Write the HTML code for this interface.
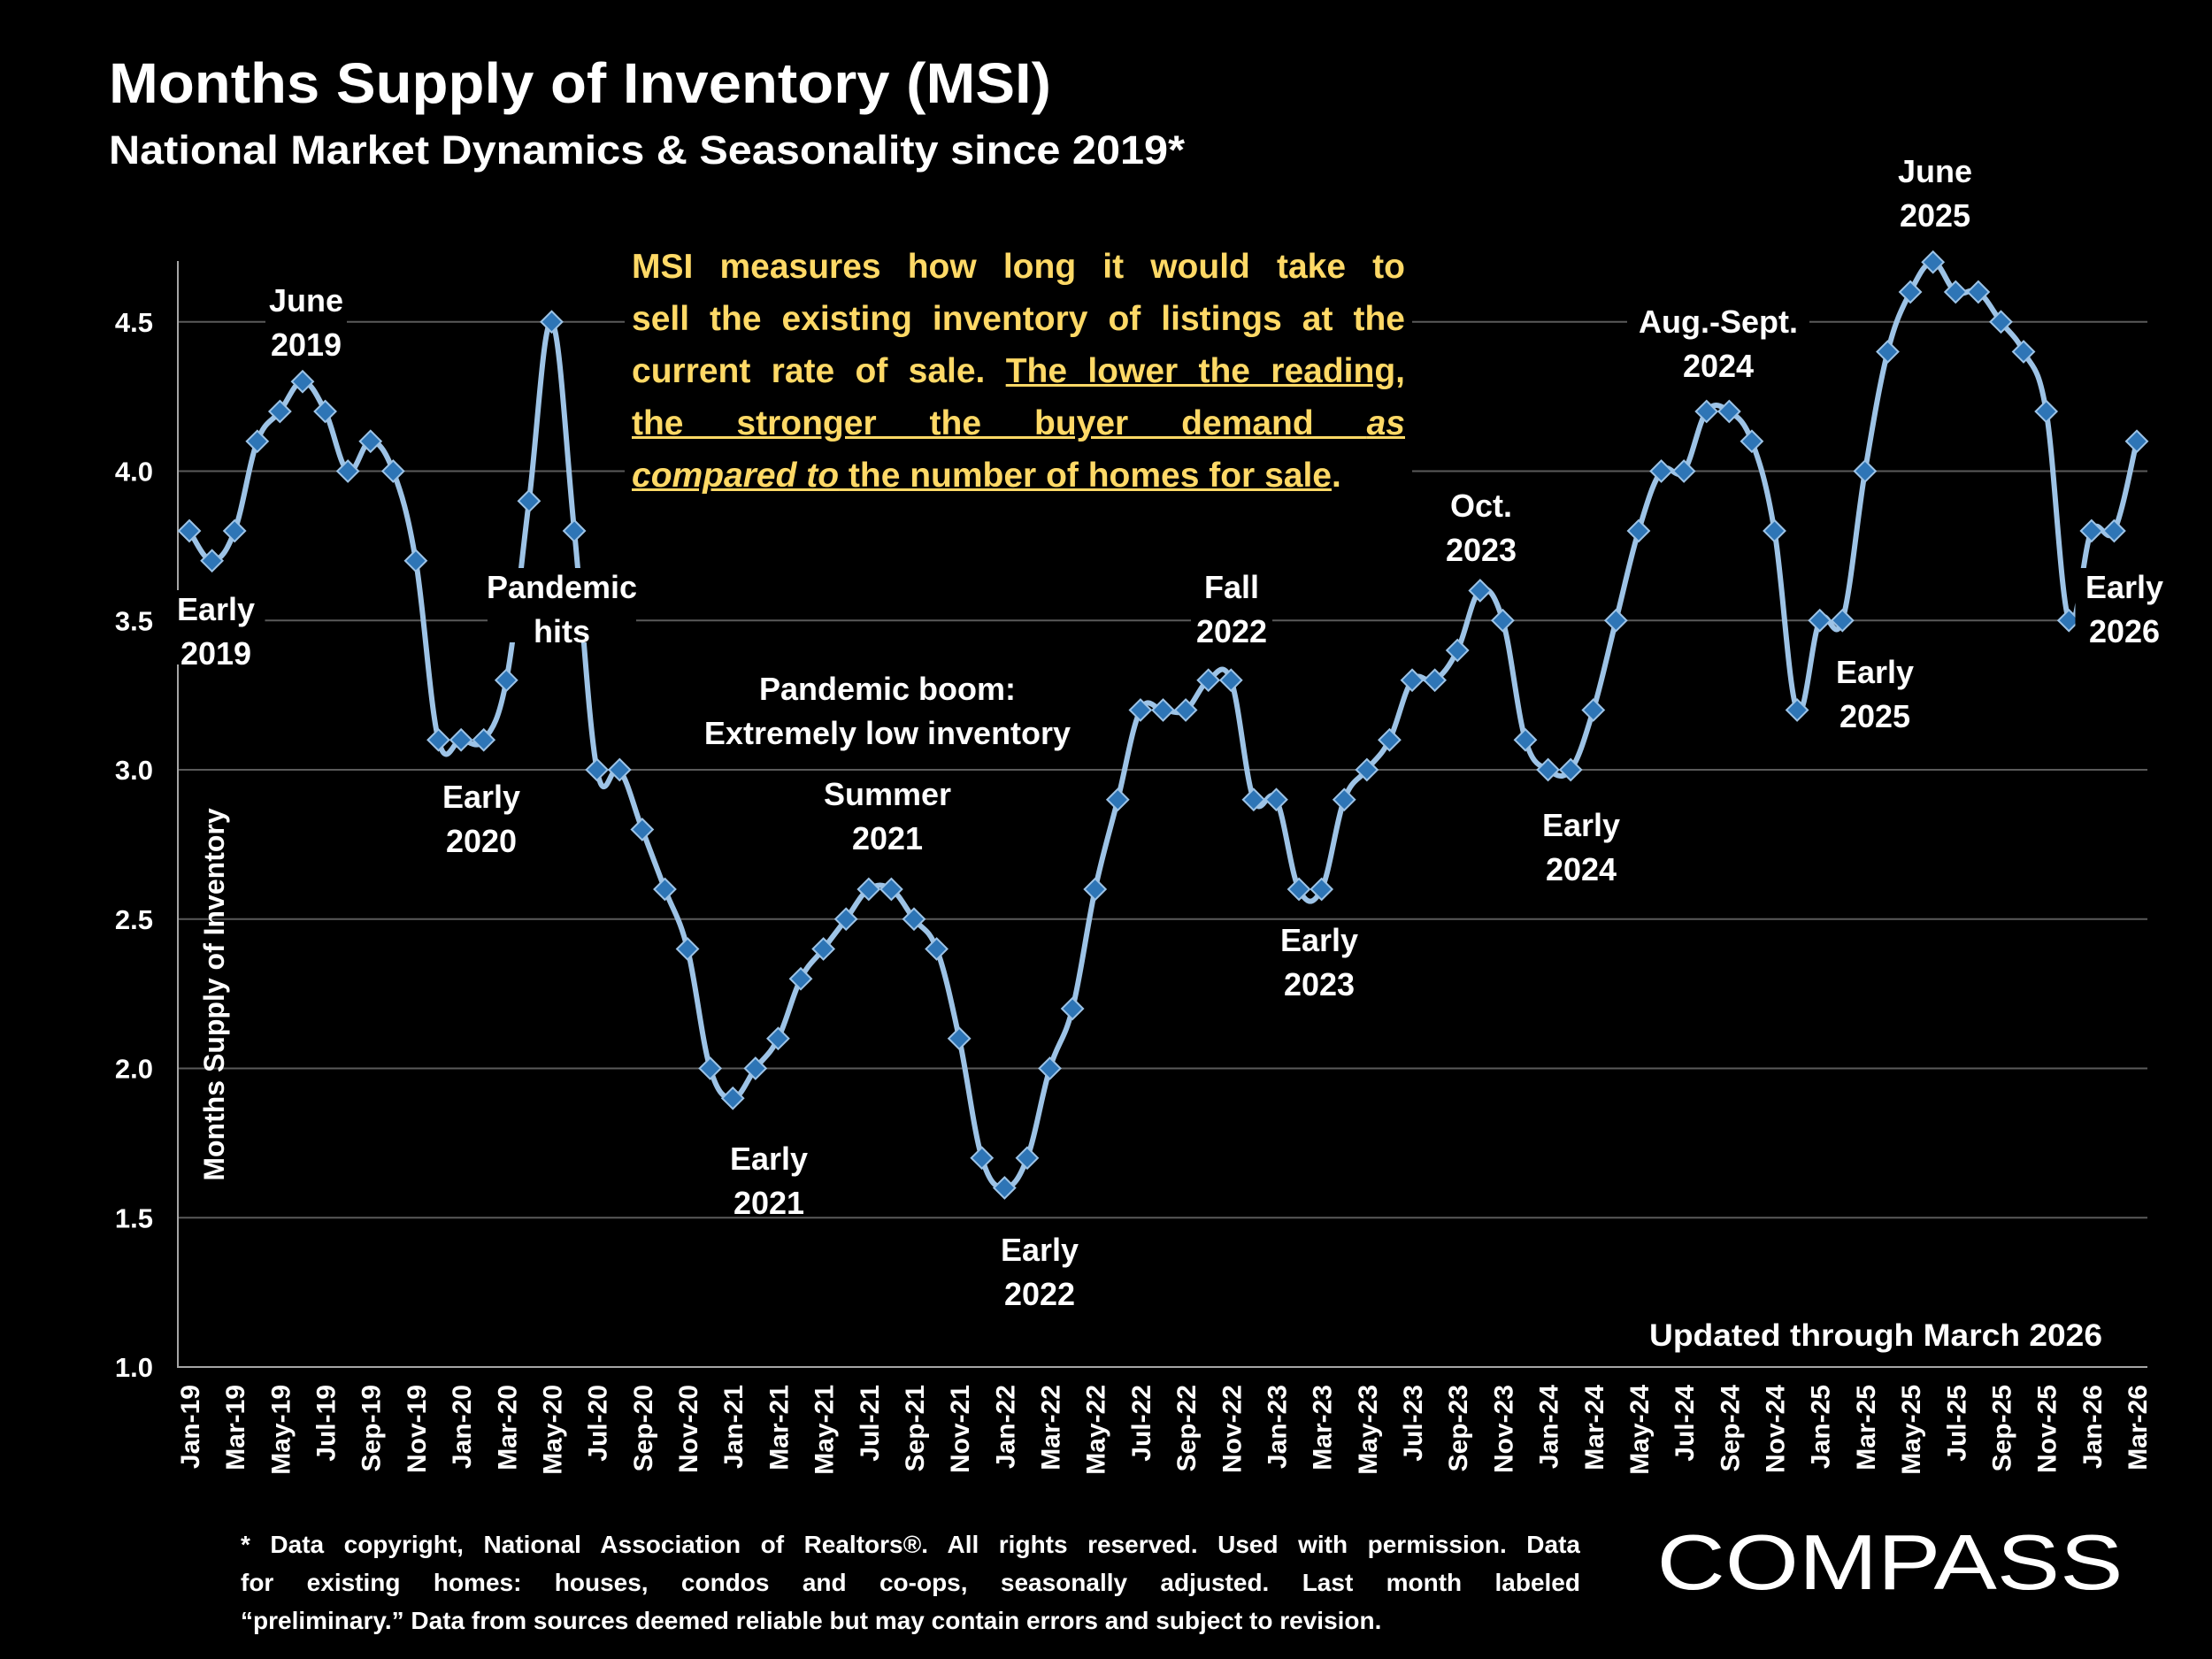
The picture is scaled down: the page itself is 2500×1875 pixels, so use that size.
<!DOCTYPE html>
<html><head><meta charset="utf-8"><style>
html,body{margin:0;padding:0;background:#000;}
svg{display:block;}
text{font-family:"Liberation Sans",sans-serif;font-weight:bold;fill:#fff;}
.j{display:block;text-align:justify;text-align-last:justify;white-space:nowrap;}
.l{display:block;white-space:nowrap;}
</style></head><body>
<svg id="c" width="2500" height="1875" viewBox="0 0 2500 1875" xmlns="http://www.w3.org/2000/svg">
<rect width="2500" height="1875" fill="#000"/>
<text x="123" y="116" font-size="64" textLength="1065" lengthAdjust="spacingAndGlyphs">Months Supply of Inventory (MSI)</text>
<text x="123" y="185" font-size="45" textLength="1216" lengthAdjust="spacingAndGlyphs">National Market Dynamics &amp; Seasonality since 2019*</text>
<g id="grid"></g><g id="axes"></g><g id="line"></g><g id="ann"></g>
<text x="2376" y="1521" font-size="35" text-anchor="end" textLength="512" lengthAdjust="spacingAndGlyphs">Updated through March 2026</text>
<text transform="translate(253,1124) rotate(-90)" font-size="32" text-anchor="middle">Months Supply of Inventory</text>
<text x="2136" y="1796" font-size="88" style="font-weight:normal" text-anchor="middle" textLength="527" lengthAdjust="spacingAndGlyphs">COMPASS</text>
<foreignObject x="706" y="272" width="890" height="320">
<div xmlns="http://www.w3.org/1999/xhtml" style="font-family:'Liberation Sans',sans-serif;font-weight:bold;color:#FFD966;font-size:39px;line-height:59px;background:#000;padding:0 8px;"><span class="j">MSI measures how long it would take to</span><span class="j">sell the existing inventory of listings at the</span><span class="j">current rate of sale. <u>The lower the reading,</u></span><span class="j"><u>the stronger the buyer demand <i>as</i></u></span><span class="l"><u><i>compared to</i> the number of homes for sale</u>.</span></div>
</foreignObject>
<foreignObject x="272" y="1724" width="1514" height="140">
<div xmlns="http://www.w3.org/1999/xhtml" style="font-family:'Liberation Sans',sans-serif;font-weight:bold;color:#fff;font-size:28px;line-height:43px;"><span class="j">* Data copyright, National Association of Realtors®. All rights reserved. Used with permission. Data</span><span class="j">for existing homes: houses, condos and co-ops, seasonally adjusted. Last month labeled</span><span class="l">“preliminary.” Data from sources deemed reliable but may contain errors and subject to revision.</span></div>
</foreignObject>
</svg>
<script>
const NS="http://www.w3.org/2000/svg";
const monthNames=["Jan","Feb","Mar","Apr","May","Jun","Jul","Aug","Sep","Oct","Nov","Dec"];
const values=[3.8,3.7,3.8,4.1,4.2,4.3,4.2,4.0,4.1,4.0,3.7,3.1,
3.1,3.1,3.3,3.9,4.5,3.8,3.0,3.0,2.8,2.6,2.4,2.0,
1.9,2.0,2.1,2.3,2.4,2.5,2.6,2.6,2.5,2.4,2.1,1.7,
1.6,1.7,2.0,2.2,2.6,2.9,3.2,3.2,3.2,3.3,3.3,2.9,
2.9,2.6,2.6,2.9,3.0,3.1,3.3,3.3,3.4,3.6,3.5,3.1,
3.0,3.0,3.2,3.5,3.8,4.0,4.0,4.2,4.2,4.1,3.8,3.2,
3.5,3.5,4.0,4.4,4.6,4.7,4.6,4.6,4.5,4.4,4.2,3.5,
3.8,3.8,4.1];
const yTicks=[1.0,1.5,2.0,2.5,3.0,3.5,4.0,4.5];
const categories=values.map((v,i)=>monthNames[i%12]+"-"+String(19+Math.floor(i/12)));
const annotations=[
["June","2019",346,352],["Early","2019",244,701],["Pandemic","hits",635,676],["Early","2020",544,913],
["Pandemic boom:","Extremely low inventory",1003,791],["Summer","2021",1003,910],["Early","2021",869,1322],
["Early","2022",1175,1425],["Fall","2022",1392,676],["Early","2023",1491,1075],["Oct.","2023",1674,584],
["Early","2024",1787,945],["Aug.-Sept.","2024",1942,376],["June","2025",2187,206],["Early","2025",2119,772],["Early","2026",2401,676]];
const X0=201,X1=2427,Y1=1545,PER=337.5;
const xs=i=>214+i*(2415-214)/(values.length-1);
const ys=v=>Y1-(v-1)*PER;
function el(t,a,p){const e=document.createElementNS(NS,t);for(const k in a)e.setAttribute(k,a[k]);p.appendChild(e);return e;}
const grid=document.getElementById('grid'),axes=document.getElementById('axes'),line=document.getElementById('line'),ann=document.getElementById('ann');
yTicks.forEach(t=>{
 if(t>1){const g=el('line',{x1:X0,x2:X1,y1:ys(t),y2:ys(t),stroke:'#5a5a5a','stroke-width':2},grid);
 
 }
 const l=el('text',{x:X0-28,y:ys(t)+11,'font-size':31,'text-anchor':'end'},axes);l.textContent=t.toFixed(1);
 
 
});
const ax=el('path',{d:`M${X0},295 V${Y1} H${X1}`,stroke:'#a6a6a6','stroke-width':2,fill:'none'},axes);


categories.forEach((c,i)=>{if(i%2)return;
 const t=el('text',{transform:`translate(${xs(i)+11},1565) rotate(-90)`,'font-size':30,'text-anchor':'end'},axes);t.textContent=c;
 
 
});
const P=values.map((v,i)=>[xs(i),ys(v)]);
let d=`M${P[0][0]},${P[0][1]}`;
for(let i=0;i<P.length-1;i++){const p0=P[Math.max(0,i-1)],p1=P[i],p2=P[i+1],p3=P[Math.min(P.length-1,i+2)];const k=0.18;
 d+=` C${p1[0]+(p2[0]-p0[0])*k},${p1[1]+(p2[1]-p0[1])*k} ${p2[0]-(p3[0]-p1[0])*k},${p2[1]-(p3[1]-p1[1])*k} ${p2[0]},${p2[1]}`;}
const pl=el('path',{d:d,stroke:'#9dc3e6','stroke-width':6,fill:'none'},line);


P.forEach((p,i)=>{const s=12;
 const m=el('path',{d:`M${p[0]},${p[1]-s} L${p[0]+s},${p[1]} L${p[0]},${p[1]+s} L${p[0]-s},${p[1]} Z`,fill:'#2e75b6',stroke:'#9dc3e6','stroke-width':2},line);
 
 
});
annotations.forEach(a=>{
 const w=Math.max(a[0].length,a[1].length)*19+16;
 const r=el('rect',{x:a[2]-w/2,y:a[3]-34,width:w,height:84,fill:'#000'},ann);
 
 
 [a[0],a[1]].forEach((s,j)=>{const t=el('text',{x:a[2],y:a[3]+j*50,'font-size':36,'text-anchor':'middle'},ann);t.textContent=s;
 
 });
});
</script>
</body></html>
